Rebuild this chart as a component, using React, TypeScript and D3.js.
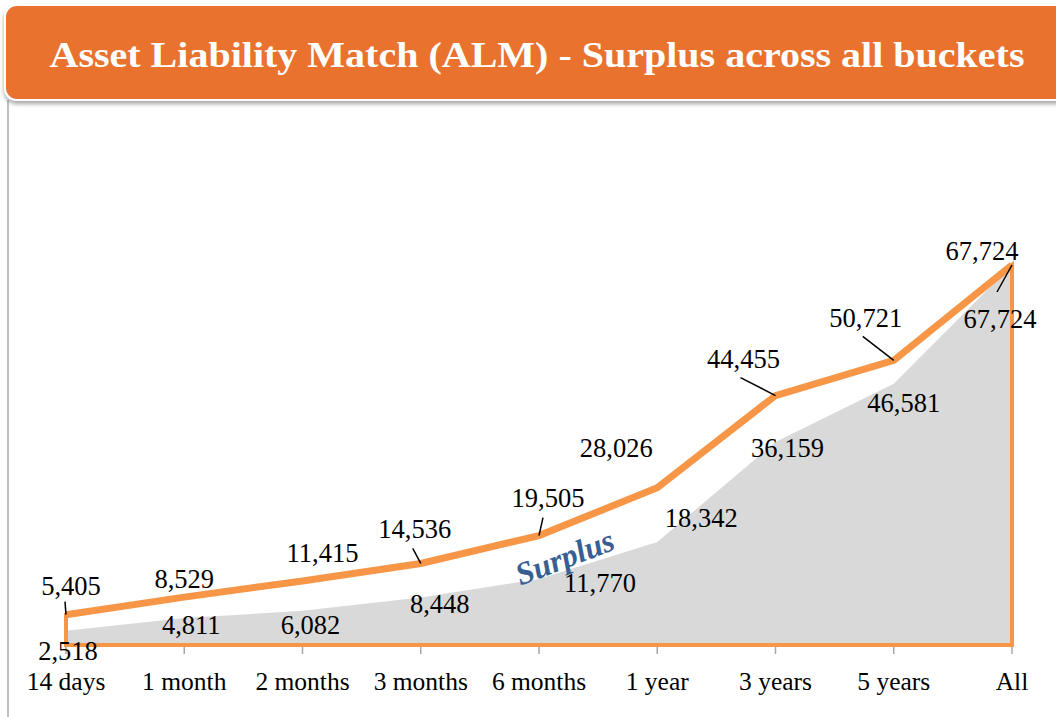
import React from "react";
import * as d3 from "d3";

const categories = ["14 days", "1 month", "2 months", "3 months", "6 months", "1 year", "3 years", "5 years", "All"];
const assets = [5405, 8529, 11415, 14536, 19505, 28026, 44455, 50721, 67724];
const liabilities = [2518, 4811, 6082, 8448, 11770, 18342, 36159, 46581, 67724];
const title = "Asset Liability Match (ALM) - Surplus across all buckets";
const surplusLabel = "Surplus";

// label placement (offsets from the point) and optional leader lines
const assetLabelOffsets: [number, number][] = [[5, -20], [0, -9], [20, -19], [-6, -25], [9, -29], [-41, -31], [-32, -28], [-28, -33], [-30, -5]];
const assetLeaders: ([number, number] | null)[] = [[-1, -13], null, null, [-8, -15], [4, -18], null, [-35, -18], [-31, -24], null];
const liabLabelOffsets: [number, number][] = [[2, 29], [7, 16], [8, 23], [19, 15], [61, 13], [44, -15], [12, 15], [10, 28], [-12, 63]];
const liabLeaders: ([number, number] | null)[] = [null, null, null, null, null, null, null, null, [-15, 27]];

const W = 1056, H = 717;
const baseY = 645;
const font = "'Liberation Serif', 'Times New Roman', serif";

export default function App() {
  const x = d3.scalePoint<string>().domain(categories).range([66, 1012]);
  const y = d3.scaleLinear().domain([0, 67724]).range([baseY, 265]);
  const fmt = d3.format(",");

  const idx = categories.map((_, i) => i);
  const area = d3.area<number>()
    .x((i) => x(categories[i])!)
    .y0(baseY)
    .y1((i) => y(liabilities[i]));
  const line = d3.line<number>()
    .x((i) => x(categories[i])!)
    .y((i) => y(assets[i]));
  const outline = d3.area<number>()
    .x((i) => x(categories[i])!)
    .y0(baseY)
    .y1((i) => y(assets[i]));

  const orange = "#F79646";

  return (
    <div style={{ position: "fixed", left: 0, top: 0, width: W, height: H, background: "#fff" }}>
      <svg width={W} height={H} style={{ display: "block" }}>
        <defs>
          <filter id="sh" x="-5%" y="-20%" width="110%" height="150%">
            <feDropShadow dx="0" dy="3" stdDeviation="2" floodColor="#000" floodOpacity="0.35" />
          </filter>
        </defs>
        {/* left gray rule */}
        <line x1={8} x2={8} y1={100} y2={H} stroke="#BFBFBF" strokeWidth={2} />
        {/* banner */}
        <rect x={5} y={5} width={1070} height={95} rx={12} ry={12} fill="#E8722F" stroke="#fff" strokeWidth={2} filter="url(#sh)" />
        <text x={537} y={67} textAnchor="middle" fill="#fff" fontFamily={font} fontWeight="bold" fontSize={36}
          textLength={975} lengthAdjust="spacingAndGlyphs">{title}</text>

        {/* liabilities area */}
        <path d={area(idx)!} fill="#D9D9D9" />
        {/* axis */}
        <line x1={66} x2={1012} y1={baseY + 1} y2={baseY + 1} stroke="#A6A6A6" strokeWidth={1.5} />
        {categories.map((c) => (
          <line key={c} x1={x(c)} x2={x(c)} y1={baseY} y2={baseY + 9} stroke="#A6A6A6" strokeWidth={1.5} />
        ))}
        {/* assets outline */}
        <path d={outline(idx)!} fill="none" stroke={orange} strokeWidth={4} strokeLinejoin="miter" />
        <path d={line(idx)!} fill="none" stroke={orange} strokeWidth={7} strokeLinejoin="miter" />

        {/* category labels */}
        {categories.map((c) => (
          <text key={c} x={x(c)} y={690} textAnchor="middle" fontFamily={font} fontSize={25.5} fill="#000">{c}</text>
        ))}

        {/* asset labels */}
        {assets.map((v, i) => {
          const px = x(categories[i])!, py = y(v);
          const [dx, dy] = assetLabelOffsets[i];
          const ld = assetLeaders[i];
          return (
            <g key={"a" + i}>
              {ld && <line x1={px} y1={py} x2={px + ld[0]} y2={py + ld[1]} stroke="#000" strokeWidth={1.5} />}
              <text x={px + dx} y={py + dy} textAnchor="middle" fontFamily={font} fontSize={26.5} fill="#000">{fmt(v)}</text>
            </g>
          );
        })}
        {/* liability labels */}
        {liabilities.map((v, i) => {
          const px = x(categories[i])!, py = y(v);
          const [dx, dy] = liabLabelOffsets[i];
          const ld = liabLeaders[i];
          return (
            <g key={"l" + i}>
              {ld && <line x1={px} y1={py} x2={px + ld[0]} y2={py + ld[1]} stroke="#000" strokeWidth={1.5} />}
              <text x={px + dx} y={py + dy} textAnchor="middle" fontFamily={font} fontSize={26.5} fill="#000">{fmt(v)}</text>
            </g>
          );
        })}

        {/* surplus label */}
        <text x={565} y={568} textAnchor="middle" fontFamily={font} fontWeight="bold" fontStyle="italic" fontSize={32}
          fill="#376092" transform="rotate(-21 565 558)">{surplusLabel}</text>
      </svg>
    </div>
  );
}
